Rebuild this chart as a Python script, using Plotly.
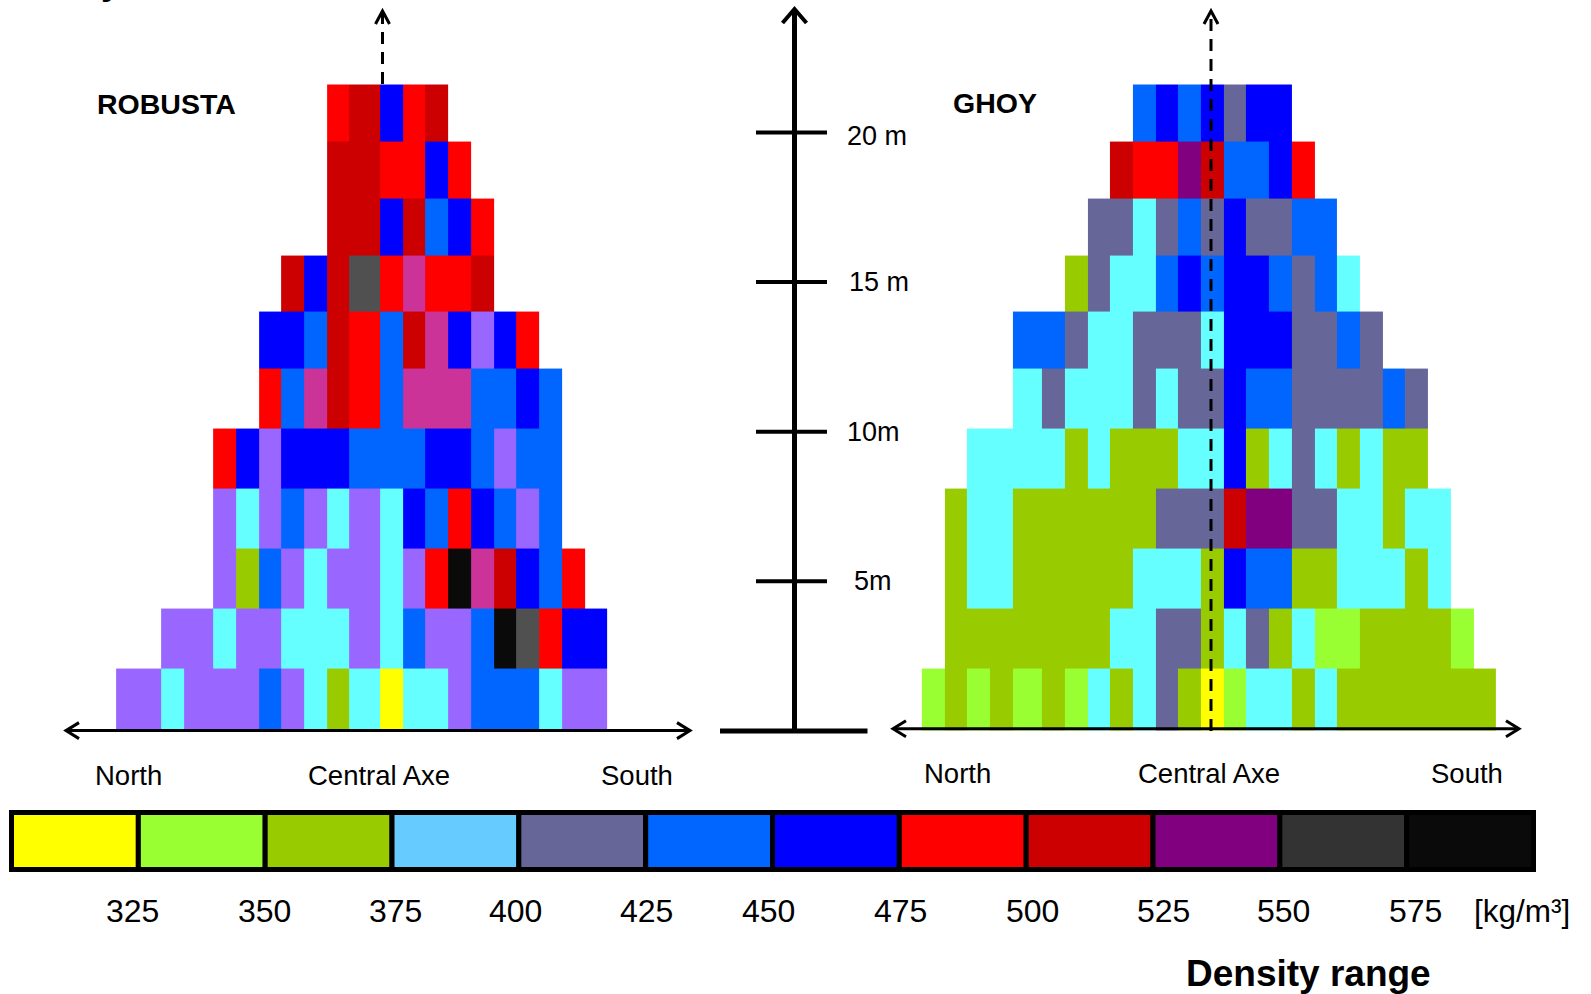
import plotly.graph_objects as go

# ---------------------------------------------------------------------------
# Data
# ---------------------------------------------------------------------------
# Density classes shown in the colour key (kg/m3) and their colours
legend_labels = ["325", "350", "375", "400", "425", "450",
                 "475", "500", "525", "550", "575"]
legend_colors = ["#FFFF00", "#99FF33", "#99CC00", "#66CCFF", "#666699", "#0066FF",
                 "#0000FF", "#FF0000", "#CC0000", "#800080", "#333333", "#0A0A0A"]

# Colour codes used in the section grids
palette = {
    "Y": "#FFFF00",  # yellow
    "L": "#99FF33",  # light green
    "G": "#99CC00",  # olive green
    "C": "#66FFFF",  # cyan
    "S": "#666699",  # slate
    "b": "#0066FF",  # mid blue
    "B": "#0000FF",  # blue
    "R": "#FF0000",  # red
    "D": "#CC0000",  # dark red
    "P": "#800080",  # purple
    "M": "#CC3399",  # magenta
    "V": "#9966FF",  # lavender
    "g": "#505050",  # grey
    "K": "#0A0A0A",  # black
}

# Height of the row boundaries (m)
row_edges = [0, 2.1, 4.1, 6.1, 8.1, 10.1, 12.1, 14.0, 15.9, 17.8, 19.7, 21.6]

# Column boundaries (m, measured from the central axe, north negative)
robusta_x_edges = [-8.90, -7.40, -6.63, -5.66, -4.89, -4.13, -3.39, -2.62, -1.85,
                   -1.12, -0.08, 0.68, 1.42, 2.19, 2.96, 3.73, 4.46, 5.23,
                   6.00, 6.77, 7.50]
ghoy_x_edges = [-9.66, -8.89, -8.15, -7.38, -6.62, -5.65, -4.88, -4.11, -3.37,
                -2.61, -1.84, -1.10, -0.33, 0.43, 1.17, 1.94, 2.71, 3.47,
                4.21, 4.98, 5.75, 6.48, 7.25, 8.02, 8.79, 9.52]

# Cell colour codes, top row first ('.' = no wood)
robusta_rows = [
    "........RDBRD.......",
    "........DDRRBR......",
    "........DDBDbBR.....",
    "......DBDgRMRRD.....",
    ".....BBbDRbDMBVBR...",
    ".....RbMDRbMMMbbBb..",
    "...RBVBBBbbbBBbVbb..",
    "...VCVbVCVCBbRBbVb..",
    "...VGbVCVVCVRKMDBbR.",
    ".VVCVVCCCVCbVVbKgRBB",
    "VCVVVbVCGCYCCVbbbCVV",
]
ghoy_rows = [
    ".........bBbBSBB.........",
    "........DRRPDbbBR........",
    ".......SSCSbSBSSbb.......",
    "......GSCCbBbBBbSbC......",
    "....bbSCCSSSCBBBSSbS.....",
    "....CSCCCSCSSBbbSSSSbS...",
    "..CCCCGCGGGCCBGCSCGCGG...",
    ".GCCGGGGGGSSSDPPSSCCGCC..",
    ".GCCGGGGGCCCGBbbGGCCCGC..",
    ".GGGGGGGCCSSGCSGCLLGGGGL.",
    "LGLGLGLCGCSGYLCCGCGGGGGGG",
]

height_ticks = [5, 10, 15, 20]
height_tick_text = ["5m", "10m", "15 m", "20 m"]

# ---------------------------------------------------------------------------
# Page geometry
# ---------------------------------------------------------------------------
W, H = 1591, 994
PX_PER_M = 29.93
BASE_Y = 731.0          # ground level
ROB_AXE_X = 382.5
GHOY_AXE_X = 1211.0
KEY_LEFT, KEY_RIGHT = 11.5, 1533.5   # colour key cell span
KEY_TOP, KEY_BOTTOM = 812.5, 869.5

FONT = "Liberation Sans, Arial, sans-serif"

# small horizontal nudges (px) of the key labels and of the height labels
key_label_shift = [-6, -1, 3, -3, 1, -4, 1, 6, 10, 4, 9]
height_label_x = [852, 845, 847, 845]
height_label_dy = [0, 0, 0, 4]


def px(x):
    return x / W


def py(y):
    return 1 - y / H


codes = list(palette)
n_codes = len(codes)
colorscale = []
for i, c in enumerate(codes):
    colorscale += [[i / n_codes, palette[c]], [(i + 1) / n_codes, palette[c]]]


def grid(rows):
    z = []
    for row in reversed(rows):
        z.append([None if ch == "." else codes.index(ch) + 0.5 for ch in row])
    return z


fig = go.Figure()

fig.add_trace(go.Heatmap(
    x=robusta_x_edges, y=row_edges, z=grid(robusta_rows),
    colorscale=colorscale, zmin=0, zmax=n_codes, showscale=False,
    hoverinfo="skip", xaxis="x", yaxis="y"))
fig.add_trace(go.Heatmap(
    x=ghoy_x_edges, y=row_edges, z=grid(ghoy_rows),
    colorscale=colorscale, zmin=0, zmax=n_codes, showscale=False,
    hoverinfo="skip", xaxis="x2", yaxis="y"))

# colour key
fig.add_trace(go.Bar(
    x=list(range(len(legend_colors))), y=[1] * len(legend_colors), width=1,
    marker=dict(color=legend_colors, line=dict(color="black", width=5)),
    hoverinfo="skip", xaxis="x3", yaxis="y3", showlegend=False))

cw = (KEY_RIGHT - KEY_LEFT) / len(legend_colors)
kh = KEY_BOTTOM - KEY_TOP

hidden = dict(visible=False, fixedrange=True, showgrid=False, zeroline=False)

# ---------------------------------------------------------------------------
# Shapes: axes and arrows
# ---------------------------------------------------------------------------
shapes = []


def line(x0, y0, x1, y1, width, dash=None):
    d = dict(type="line", xref="paper", yref="paper",
             x0=px(x0), y0=py(y0), x1=px(x1), y1=py(y1),
             line=dict(color="black", width=width))
    if dash:
        d["line"]["dash"] = dash
    shapes.append(d)


def chevron(pts, width):
    path = "M " + " L ".join(f"{px(x)},{py(y)}" for x, y in pts)
    shapes.append(dict(type="path", xref="paper", yref="paper", path=path,
                       line=dict(color="black", width=width)))


def up_arrow_head(x, y, a, b, width):
    chevron([(x - a, y + b), (x, y), (x + a, y + b)], width)


def h_double_arrow(x0, x1, y, width=3, a=8, b=13):
    line(x0 + 1, y, x1 - 1, y, width)
    chevron([(x0 + b, y - a), (x0, y), (x0 + b, y + a)], width)
    chevron([(x1 - b, y - a), (x1, y), (x1 - b, y + a)], width)


# height scale in the middle
SCALE_X = 794.5
line(SCALE_X, BASE_Y, SCALE_X, 10, 5)
up_arrow_head(SCALE_X, 9, 12, 14, 4)
line(720, BASE_Y, 867.5, BASE_Y, 5)
for h in height_ticks:
    shapes.append(dict(type="line", xref="paper", yref="y",
                       x0=px(756), x1=px(827), y0=h, y1=h,
                       line=dict(color="black", width=4)))

# Robusta: ground arrow and central axe above the crown
h_double_arrow(66, 690, 730.6)
line(ROB_AXE_X, 84, ROB_AXE_X, 13, 3, dash="12px,8px")
up_arrow_head(ROB_AXE_X, 11, 7, 13, 3)

# Ghoy: ground arrow and central axe through the section
h_double_arrow(893, 1519, 728.8)
line(GHOY_AXE_X, 731, GHOY_AXE_X, 13, 3, dash="12px,8px")
up_arrow_head(GHOY_AXE_X, 11, 7, 13, 3)

# ---------------------------------------------------------------------------
# Text
# ---------------------------------------------------------------------------
annotations = []


def text(x, y, s, size, anchor="left", bold=False):
    annotations.append(dict(
        xref="paper", yref="paper", x=px(x), y=py(y),
        text=f"<b>{s}</b>" if bold else s, showarrow=False,
        xanchor=anchor, yanchor="middle",
        font=dict(family=FONT, size=size, color="black")))


text(111, -18, "y", 36, anchor="center", bold=True)
text(95, 104.5, "ROBUSTA", 28.5, bold=True)
text(951, 103.5, "GHOY", 28.5, bold=True)

for (x, s) in [(93, "North"), (306, "Central Axe"), (599, "South")]:
    text(x, 775, s, 27.5)
for (x, s) in [(922, "North"), (1136, "Central Axe"), (1429, "South")]:
    text(x, 773, s, 27.5)

for h, s, hx, dy in zip(height_ticks, height_tick_text, height_label_x, height_label_dy):
    annotations.append(dict(
        xref="paper", yref="y", x=px(hx), y=h, yshift=-dy, text=s, showarrow=False,
        xanchor="left", yanchor="middle",
        font=dict(family=FONT, size=27, color="black")))

for k, s in enumerate(legend_labels):
    annotations.append(dict(
        xref="x3", yref="paper", x=k + 0.5, y=py(911), xshift=key_label_shift[k],
        text=s, showarrow=False, xanchor="center", yanchor="middle",
        font=dict(family=FONT, size=32, color="black")))
text(1472, 911, "[kg/m³]", 31.5)
text(1308, 973, "Density range", 37, anchor="center", bold=True)

fig.update_layout(
    width=W, height=H, autosize=False,
    margin=dict(l=0, r=0, t=0, b=0, pad=0),
    paper_bgcolor="white", plot_bgcolor="white",
    showlegend=False, bargap=0,
    xaxis=dict(domain=[0, 1], anchor="y",
               range=[-ROB_AXE_X / PX_PER_M, (W - ROB_AXE_X) / PX_PER_M], **hidden),
    xaxis2=dict(anchor="y", overlaying="x",
                range=[-GHOY_AXE_X / PX_PER_M, (W - GHOY_AXE_X) / PX_PER_M], **hidden),
    yaxis=dict(domain=[0, 1], anchor="x",
               range=[-(H - BASE_Y) / PX_PER_M, BASE_Y / PX_PER_M], **hidden),
    xaxis3=dict(anchor="y3", overlaying="x",
                range=[-0.5 - KEY_LEFT / cw, len(legend_colors) - 0.5 + (W - KEY_RIGHT) / cw],
                **hidden),
    yaxis3=dict(anchor="x3", overlaying="y",
                range=[-(H - KEY_BOTTOM) / kh, KEY_BOTTOM / kh], **hidden),
    shapes=shapes,
    annotations=annotations,
)

fig.write_html("out.html", config={"displayModeBar": False, "staticPlot": True})
